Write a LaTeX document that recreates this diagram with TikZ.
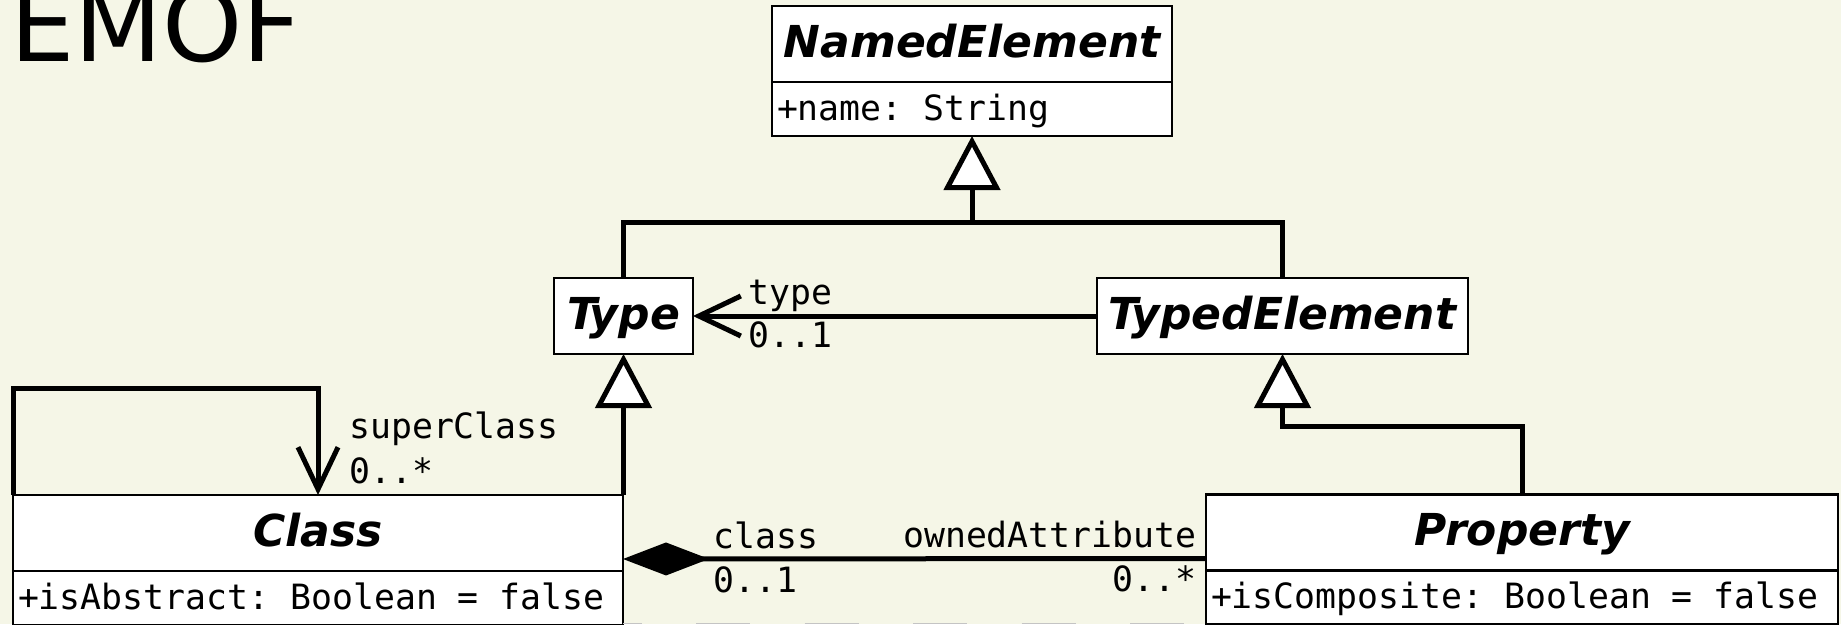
\documentclass[tikz,border=0pt]{standalone}
\usepackage{fontspec}
\setmainfont{DejaVu Sans}
\setmonofont{DejaVu Sans Mono}
\usetikzlibrary{arrows.meta, positioning}

\definecolor{slidebg}{RGB}{245,246,231}
\definecolor{cutgray}{RGB}{196,196,196}

\newcommand{\namefont}{\fontsize{44}{50}\selectfont\bfseries\itshape}
\newcommand{\attrfont}{\fontsize{34.8}{40}\selectfont\ttfamily}

\tikzset{
  umlname/.style={
    rectangle, draw=black, fill=white, line width=2.5pt,
    inner sep=0pt, outer sep=0pt, minimum height=76pt,
    text height=34pt, text depth=8pt, font=\namefont
  },
  umlattr/.style={
    rectangle, draw=black, fill=white, line width=2.5pt,
    inner xsep=5pt, inner ysep=0pt, outer sep=0pt, minimum height=54pt,
    text height=27pt, text depth=5pt, text width=#1, align=flush left,
    font=\attrfont, execute at begin node={\spaceskip=20.95pt\relax}
  },
  rolelabel/.style={inner sep=0pt, font=\attrfont},
  slidetitle/.style={inner sep=0pt, font=\fontsize{102}{112}\selectfont},
  genline/.style={line width=5pt},
  inherit/.style={genline, -{Triangle[length=54pt, width=56pt, fill=white]}},
  navig/.style={line width=5pt, -{Straight Barb[length=42pt, width=40pt]}},
  compose/.style={line width=5pt, -{Diamond[length=86pt, width=33pt]}},
  cutline/.style={draw=cutgray, line width=1pt,
    dash pattern=on 54pt off 54.5pt, dash phase=35.5pt}
}

\begin{document}
\begin{tikzpicture}[x=1pt, y=-1pt]
  \useasboundingbox (0,0) rectangle (1841,624);
  \fill[slidebg] (0,0) rectangle (1841,624);
  \clip (0,0) rectangle (1841,624);

  \node[slidetitle, anchor=base west] (emof) at (10,61) {EMOF};

  % classes
  \node[umlname, minimum width=400pt] (namedname) at (972,44) {NamedElement};
  \node[umlattr=390pt, below=0pt of namedname] (namedattr) {+name: String};
  \node[umlname, minimum width=139pt] (type) at (623.5,316) {Type};
  \node[umlname, minimum width=371pt, right=404pt of type] (typedel) {TypedElement};
  \node[umlname, minimum width=610pt] (classname) at (318,533) {Class};
  \node[umlattr=600pt, below=0pt of classname] (classattr)
    {+isAbstract: Boolean = false};
  \node[umlname, minimum width=632pt] (propname) at (1522,532.5) {Property};
  \node[umlattr=622pt, below=0pt of propname] (propattr)
    {+isComposite: Boolean = false};

  \coordinate (nejoin) at ([yshift=-86pt]namedattr.south);
  \coordinate (tejoin) at ([yshift=-72pt]typedel.south);
  \coordinate (loopcorner) at ([yshift=107pt]classname.north);
  \coordinate (cutstart) at ([yshift=1.5pt]classattr.south east);

  % generalizations
  \draw[inherit] (type.north) |- (nejoin) -- (namedattr.south);
  \draw[genline] (typedel.north) |- (nejoin);
  \draw[inherit] (type.south |- classname.north) -- (type.south);
  \draw[inherit] (propname.north) |- (tejoin) -- (typedel.south);

  % associations
  \draw[navig] (typedel.west) --
    node[rolelabel, pos=0.869, anchor=base west, yshift=12pt] (typerole) {type}
    node[rolelabel, pos=0.869, anchor=base west, yshift=-31pt] (typemult) {0..1}
    (type.east);
  \draw[navig] (classname.north west) |- (loopcorner) -- (classname.north);
  \node[rolelabel, anchor=base west] (superrole) at (349,438) {superClass};
  \node[rolelabel, anchor=base west] (supermult) at (349,483) {0..*};
  \draw[compose] ([yshift=12pt]propname.south west) --
    node[rolelabel, pos=0.012, anchor=base east, yshift=11pt] (ownrole) {ownedAttribute}
    node[rolelabel, pos=0.012, anchor=base east, yshift=-33pt] (ownmult) {0..*}
    node[rolelabel, pos=0.849, anchor=base west, yshift=10pt] (classrole) {class}
    node[rolelabel, pos=0.849, anchor=base west, yshift=-34pt] (classmult) {0..1}
    ([yshift=12pt]classname.south east);

  \draw[cutline] (cutstart) -- (cutstart -| propattr.west);
\end{tikzpicture}
\end{document}
